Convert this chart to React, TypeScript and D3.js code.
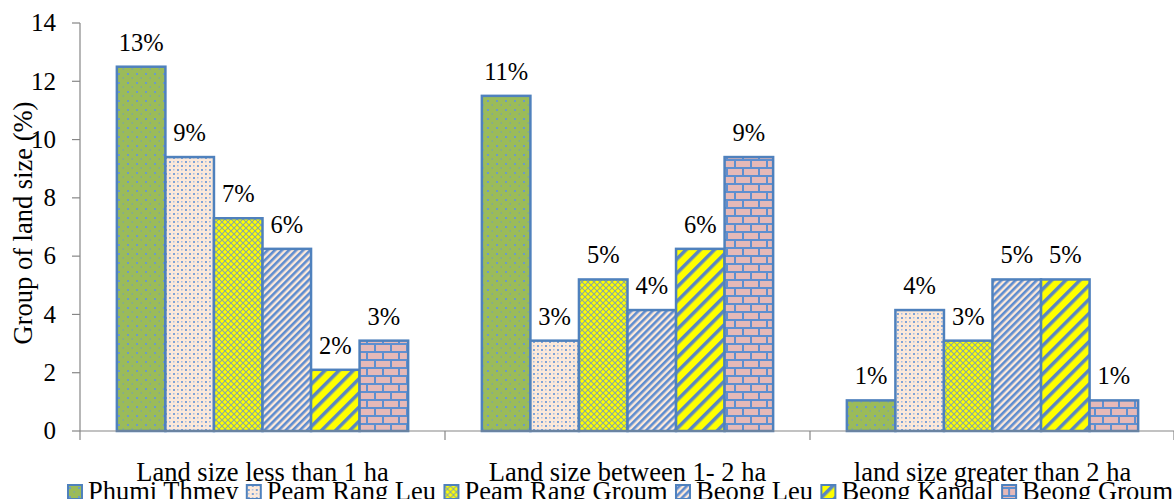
import React, { useEffect, useRef } from "react";
import * as d3 from "d3";

// Land-size categories and villages
const categories = [
  "Land size less than 1 ha",
  "Land size between 1- 2 ha",
  "land size greater than 2 ha",
];
const villages = [
  "Phumi Thmey",
  "Peam Rang Leu",
  "Peam Rang Groum",
  "Beong Leu",
  "Beong Kandal",
  "Beong Groum",
];
// Percent values per village, one entry per category
const phumiThmey = [12.5, 11.5, 1.05];
const peamRangLeu = [9.4, 3.1, 4.15];
const peamRangGroum = [7.3, 5.2, 3.1];
const beongLeu = [6.25, 4.15, 5.2];
const beongKandal = [2.1, 6.25, 5.2];
const beongGroum = [3.1, 9.4, 1.05];
// Rounded labels printed above each bar
const phumiThmeyLabels = ["13%", "11%", "1%"];
const peamRangLeuLabels = ["9%", "3%", "4%"];
const peamRangGroumLabels = ["7%", "5%", "3%"];
const beongLeuLabels = ["6%", "4%", "5%"];
const beongKandalLabels = ["2%", "6%", "5%"];
const beongGroumLabels = ["3%", "9%", "1%"];
const yTicks = [0, 2, 4, 6, 8, 10, 12, 14];

const seriesValues = [phumiThmey, peamRangLeu, peamRangGroum, beongLeu, beongKandal, beongGroum];
const seriesLabels = [
  phumiThmeyLabels,
  peamRangLeuLabels,
  peamRangGroumLabels,
  beongLeuLabels,
  beongKandalLabels,
  beongGroumLabels,
];

const W = 1174;
const H = 499;
const FONT = '"Liberation Serif", "Times New Roman", serif';
const BORDER = "#4F81BD";

function definePatterns(defs: any) {
  // Green with sparse blue dots
  const p0 = defs.append("pattern").attr("id", "pat0").attr("patternUnits", "userSpaceOnUse")
    .attr("width", 9).attr("height", 9);
  p0.append("rect").attr("width", 9).attr("height", 9).attr("fill", "#9BBB59");
  p0.append("rect").attr("x", 1).attr("y", 1).attr("width", 2).attr("height", 2).attr("fill", "#6C9BC8");
  p0.append("rect").attr("x", 5.5).attr("y", 5.5).attr("width", 1.5).attr("height", 1).attr("fill", "#6C9BC8");

  // Peach with dense blue dots
  const p1 = defs.append("pattern").attr("id", "pat1").attr("patternUnits", "userSpaceOnUse")
    .attr("width", 8).attr("height", 8);
  p1.append("rect").attr("width", 8).attr("height", 8).attr("fill", "#FDE9D9");
  p1.append("rect").attr("x", 1).attr("y", 1).attr("width", 2).attr("height", 2).attr("fill", "#7FA3D6");
  p1.append("rect").attr("x", 5).attr("y", 5).attr("width", 2).attr("height", 2).attr("fill", "#7FA3D6");
  p1.append("rect").attr("x", 5).attr("y", 1).attr("width", 1.5).attr("height", 1.5).attr("fill", "#A9C0E3");
  p1.append("rect").attr("x", 1).attr("y", 5).attr("width", 1.5).attr("height", 1.5).attr("fill", "#A9C0E3");

  // Yellow with a green-blue diagonal lattice
  const p2 = defs.append("pattern").attr("id", "pat2").attr("patternUnits", "userSpaceOnUse")
    .attr("width", 6).attr("height", 6);
  p2.append("rect").attr("width", 6).attr("height", 6).attr("fill", "#FFFF00");
  p2.append("path").attr("d", "M0,0 L6,6 M6,0 L0,6")
    .attr("stroke", "#8AA99E").attr("stroke-width", 1.1).attr("fill", "none");

  // Narrow downward diagonal: blue and peach
  const p3 = defs.append("pattern").attr("id", "pat3").attr("patternUnits", "userSpaceOnUse")
    .attr("width", 5).attr("height", 5).attr("patternTransform", "rotate(45)");
  p3.append("rect").attr("width", 5).attr("height", 5).attr("fill", "#FDE9D9");
  p3.append("rect").attr("width", 2.6).attr("height", 5).attr("fill", "#5E8CCF");

  // Wide downward diagonal: yellow and blue
  const p4 = defs.append("pattern").attr("id", "pat4").attr("patternUnits", "userSpaceOnUse")
    .attr("width", 10).attr("height", 10).attr("patternTransform", "rotate(45)");
  p4.append("rect").attr("width", 10).attr("height", 10).attr("fill", "#FFFF00");
  p4.append("rect").attr("width", 3.5).attr("height", 10).attr("fill", "#5A86C2");

  // Pink brick with blue mortar
  const p5 = defs.append("pattern").attr("id", "pat5").attr("patternUnits", "userSpaceOnUse")
    .attr("width", 16).attr("height", 16);
  p5.append("rect").attr("width", 16).attr("height", 16).attr("fill", "#5F8FD0");
  p5.append("rect").attr("x", 0).attr("y", 1).attr("width", 14).attr("height", 6).attr("fill", "#E6B9B8");
  p5.append("rect").attr("x", 8).attr("y", 9).attr("width", 14).attr("height", 6).attr("fill", "#E6B9B8");
  p5.append("rect").attr("x", -8).attr("y", 9).attr("width", 14).attr("height", 6).attr("fill", "#E6B9B8");
}

function label(sel: any, size: number) {
  return sel.attr("font-family", FONT).attr("font-size", size).attr("fill", "#000");
}

export default function App() {
  const ref = useRef<SVGSVGElement | null>(null);

  useEffect(() => {
    const svg = d3.select(ref.current as SVGSVGElement);
    svg.selectAll("*").remove();
    const defs = svg.append("defs");
    definePatterns(defs);

    const left = 80;
    const right = 1175;
    const top = 23;
    const bottom = 431;

    const y = d3.scaleLinear().domain([0, 14]).range([bottom, top]);
    const x0 = d3.scaleBand<string>().domain(categories).range([left, right]).padding(0);
    const bw = x0.bandwidth();
    const x1 = d3.scaleBand<string>().domain(villages)
      .range([bw * 0.101, bw * 0.899]).padding(0);

    const axisColor = "#868686";

    // Y axis
    const gy = svg.append("g");
    gy.append("line").attr("x1", left).attr("x2", left).attr("y1", y(14)).attr("y2", y(0))
      .attr("stroke", axisColor).attr("stroke-width", 1.2);
    yTicks.forEach((t) => {
      gy.append("line").attr("x1", left - 8).attr("x2", left).attr("y1", y(t)).attr("y2", y(t))
        .attr("stroke", axisColor).attr("stroke-width", 1.2);
      label(gy.append("text").attr("x", 56).attr("y", y(t)).attr("dy", "0.33em")
        .attr("text-anchor", "end"), 25).text(String(t));
    });
    label(svg.append("text")
      .attr("transform", `translate(32, 223) rotate(-90)`)
      .attr("text-anchor", "middle"), 26.5).text("Group of land size (%)");

    // Bars
    const gBars = svg.append("g");
    categories.forEach((cat, ci) => {
      villages.forEach((v, si) => {
        const val = seriesValues[si][ci];
        const bx = (x0(cat) as number) + (x1(v) as number);
        const w = x1.bandwidth();
        gBars.append("rect")
          .attr("x", bx).attr("y", y(val))
          .attr("width", w).attr("height", y(0) - y(val))
          .attr("fill", `url(#pat${si})`)
          .attr("stroke", BORDER).attr("stroke-width", 2.5);
        label(gBars.append("text")
          .attr("x", bx + w / 2).attr("y", y(val) - 16)
          .attr("text-anchor", "middle"), 24.5).text(seriesLabels[si][ci]);
      });
    });

    // X axis
    const gx = svg.append("g");
    gx.append("line").attr("x1", left).attr("x2", W).attr("y1", bottom).attr("y2", bottom)
      .attr("stroke", axisColor).attr("stroke-width", 1.2);
    [...categories.map((c) => x0(c) as number), right - 1].forEach((tx) => {
      gx.append("line").attr("x1", tx).attr("x2", tx).attr("y1", bottom).attr("y2", bottom + 9)
        .attr("stroke", axisColor).attr("stroke-width", 1.2);
    });
    categories.forEach((c) => {
      label(gx.append("text").attr("x", (x0(c) as number) + bw / 2).attr("y", 481)
        .attr("text-anchor", "middle"), 26.5).text(c);
    });

    // Legend laid out in one row from measured label widths
    const gl = svg.append("g");
    const legStart = 68;
    const legEnd = 1173;
    const markerSize = 14;
    const textGap = 6;
    const items = villages.map((v, i) => {
      const g = gl.append("g");
      g.append("rect").attr("x", 0).attr("y", 485).attr("width", markerSize).attr("height", markerSize)
        .attr("fill", `url(#pat${i})`).attr("stroke", BORDER).attr("stroke-width", 2);
      const t = label(g.append("text").attr("x", markerSize + textGap).attr("y", 500), 26.5).text(v);
      const tw = (t.node() as SVGTextElement).getComputedTextLength();
      return { g, w: markerSize + textGap + tw };
    });
    const totalW = d3.sum(items, (d: any) => d.w);
    const gap = (legEnd - legStart - totalW) / (items.length - 1);
    let cx = legStart;
    items.forEach((it) => {
      it.g.attr("transform", `translate(${cx},0)`);
      cx += it.w + gap;
    });
  }, []);

  return (
    <svg
      ref={ref}
      width={W}
      height={H}
      style={{ position: "absolute", left: 0, top: 0, background: "#fff", display: "block" }}
    />
  );
}
